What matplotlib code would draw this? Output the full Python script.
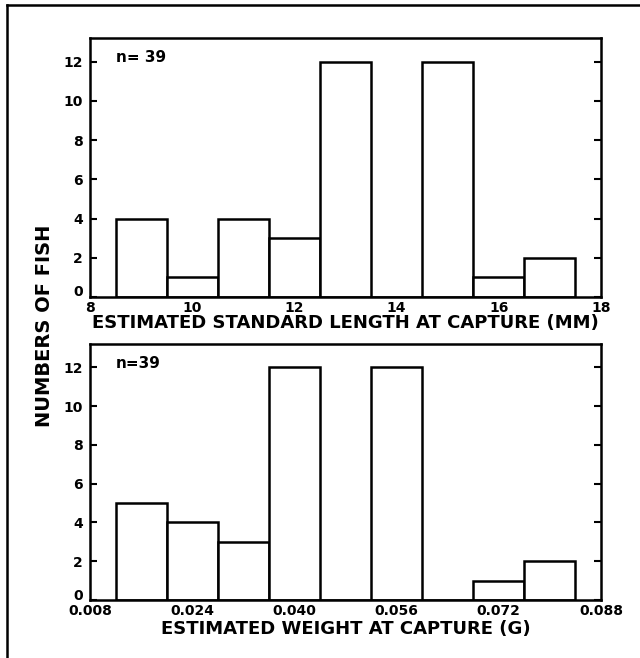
import numpy as np
import matplotlib.pyplot as plt
import matplotlib.transforms as mtransforms
from matplotlib.lines import Line2D

plt.rcParams['font.family'] = ['DejaVu Sans']
plt.rcParams['font.weight'] = 'bold'

# length histogram (mm)
len_edges = [8.5, 9.5, 10.5, 11.5, 12.5, 13.5, 14.5, 15.5, 16.5, 17.5]
len_counts = [4, 1, 4, 3, 12, 0, 12, 1, 2]
len_ticks = [8, 10, 12, 14, 16, 18]

# weight histogram (g)
wt_edges = [0.012, 0.020, 0.028, 0.036, 0.044, 0.052, 0.060, 0.068, 0.076, 0.084]
wt_counts = [5, 4, 3, 12, 0, 12, 0, 1, 2]
wt_ticks = [0.008, 0.024, 0.040, 0.056, 0.072, 0.088]
wt_ticklabels = ['0.008', '0.024', '0.040', '0.056', '0.072', '0.088']

y_ticks = [0, 2, 4, 6, 8, 10, 12]

fig = plt.figure(figsize=(6.4, 6.58), dpi=100)
ax1 = fig.add_axes([90/640, (658-297)/658, 511/640, 259/658])
ax2 = fig.add_axes([90/640, (658-600)/658, 511/640, 256/658])


def draw_hist(ax, edges, counts, ntext):
    edges = np.array(edges)
    widths = np.diff(edges)
    ax.bar(edges[:-1], counts, width=widths, align='edge',
           facecolor='white', edgecolor='black', linewidth=1.8)
    ax.set_ylim(0, 13.2)
    ax.set_yticks(y_ticks)
    ax.tick_params(axis='y', direction='in', length=5, width=1.5,
                   left=True, right=True, labelsize=10, pad=5)
    ax.tick_params(axis='x', length=0, labelsize=10, pad=3)
    for s in ax.spines.values():
        s.set_linewidth(1.8)
    ax.text(0.05, 0.955, ntext, transform=ax.transAxes, fontsize=11,
            fontweight='bold', va='top', ha='left')
    # lift the "0" label a little so it clears the x tick labels
    lab0 = ax.get_yticklabels()[0]
    lab0.set_transform(lab0.get_transform() +
                       mtransforms.ScaledTranslation(0, 6/100, fig.dpi_scale_trans))


draw_hist(ax1, len_edges, len_counts, 'n= 39')
ax1.set_xlim(8, 18)
ax1.set_xticks(len_ticks)
ax1.set_xlabel('ESTIMATED STANDARD LENGTH AT CAPTURE (MM)', fontsize=13,
               fontweight='bold', labelpad=-1)

draw_hist(ax2, wt_edges, wt_counts, 'n=39')
ax2.set_xlim(0.008, 0.088)
ax2.set_xticks(wt_ticks)
ax2.set_xticklabels(wt_ticklabels)
ax2.set_xlabel('ESTIMATED WEIGHT AT CAPTURE (G)', fontsize=13,
               fontweight='bold', labelpad=1)

fig.text(45/640, 1 - 326/658, 'NUMBERS OF FISH', rotation=90, fontsize=14,
         fontweight='bold', ha='center', va='center')

# page frame lines
fig.add_artist(Line2D([7/640, 7/640], [0, 1 - 5/658], color='black', linewidth=1.8))
fig.add_artist(Line2D([7/640, 1], [1 - 5/658, 1 - 5/658], color='black', linewidth=1.8))

fig.savefig('out.png', dpi=100)
